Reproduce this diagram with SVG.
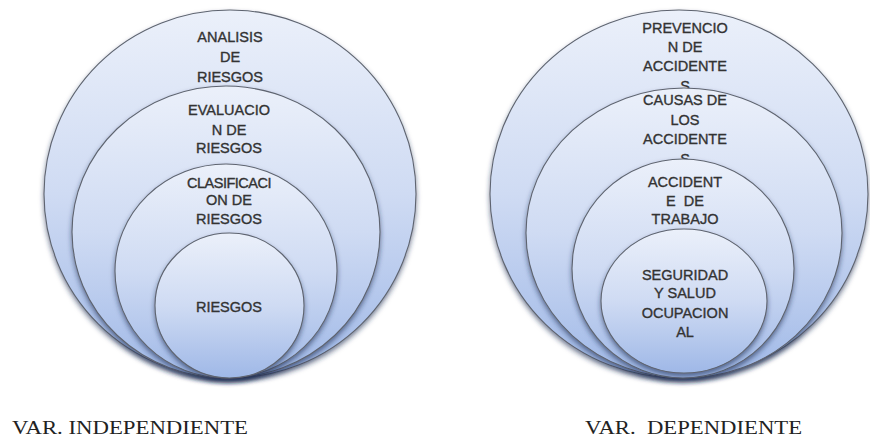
<svg xmlns="http://www.w3.org/2000/svg" width="870" height="439" viewBox="0 0 870 439">
<defs>
<linearGradient id="g" x1="0" y1="0" x2="0" y2="1">
<stop offset="0" stop-color="#ebf0fa"/>
<stop offset="0.5" stop-color="#cfdbf3"/>
<stop offset="1" stop-color="#9fb8e7"/>
</linearGradient>
<filter id="sh" x="-10%" y="-10%" width="120%" height="125%">
<feDropShadow dx="0" dy="3" stdDeviation="2.5" flood-color="#1c2a52" flood-opacity="0.6"/>
</filter>
<style>
.c{fill:url(#g);stroke:#5e6470;stroke-width:1.1;filter:url(#sh)}
.t{font-family:"Liberation Sans",Arial,sans-serif;font-size:14.5px;fill:#333333;stroke:#333333;stroke-width:0.35px;text-anchor:middle}
.lb{font-family:"Liberation Serif","Times New Roman",serif;font-size:18px;fill:#222222}
</style>
</defs>
<rect width="870" height="439" fill="#ffffff"/>

<g id="left">
<g id="analisis">
<ellipse class="c" cx="230" cy="194" rx="186" ry="184"/>
<text class="t" x="230" y="42">ANALISIS</text>
<text class="t" x="230" y="62">DE</text>
<text class="t" x="230" y="82">RIESGOS</text>
</g>
<g id="evaluacion">
<ellipse class="c" cx="226" cy="232" rx="154" ry="146"/>
<text class="t" x="229" y="115">EVALUACIO</text>
<text class="t" x="229" y="135">N DE</text>
<text class="t" x="229" y="153">RIESGOS</text>
</g>
<g id="clasificacion">
<ellipse class="c" cx="226" cy="271" rx="111" ry="107"/>
<text class="t" x="229" y="188" style="letter-spacing:-0.5px">CLASIFICACI</text>
<text class="t" x="229" y="205">ON DE</text>
<text class="t" x="229" y="224">RIESGOS</text>
</g>
<g id="riesgos">
<ellipse class="c" cx="229.5" cy="305.5" rx="74.5" ry="72.5"/>
<text class="t" x="229" y="312">RIESGOS</text>
</g>
</g>

<g id="right">
<g id="prevencion">
<ellipse class="c" cx="679" cy="194" rx="189" ry="184"/>
<text class="t" x="685" y="33">PREVENCIO</text>
<text class="t" x="685" y="52">N DE</text>
<text class="t" x="685" y="71">ACCIDENTE</text>
<text class="t" x="685" y="91">S</text>
</g>
<g id="causas">
<ellipse class="c" cx="684" cy="233" rx="158" ry="145"/>
<text class="t" x="685" y="105">CAUSAS DE</text>
<text class="t" x="685" y="125">LOS</text>
<text class="t" x="685" y="144">ACCIDENTE</text>
<text class="t" x="685" y="164">S</text>
</g>
<g id="accidente">
<ellipse class="c" cx="683" cy="268.5" rx="111" ry="109.5"/>
<text class="t" x="685" y="187">ACCIDENT</text>
<text class="t" x="685" y="206" xml:space="preserve">E  DE</text>
<text class="t" x="685" y="224">TRABAJO</text>
</g>
<g id="seguridad">
<ellipse class="c" cx="684" cy="301" rx="83" ry="72"/>
<text class="t" x="685" y="280">SEGURIDAD</text>
<text class="t" x="685" y="298">Y SALUD</text>
<text class="t" x="685" y="318">OCUPACION</text>
<text class="t" x="685" y="337">AL</text>
</g>
</g>

<g id="labels">
<text class="lb" x="12" y="434" textLength="236" lengthAdjust="spacingAndGlyphs">VAR. INDEPENDIENTE</text>
<text class="lb" x="585" y="434" textLength="217" lengthAdjust="spacingAndGlyphs" xml:space="preserve">VAR.  DEPENDIENTE</text>
</g>
</svg>
